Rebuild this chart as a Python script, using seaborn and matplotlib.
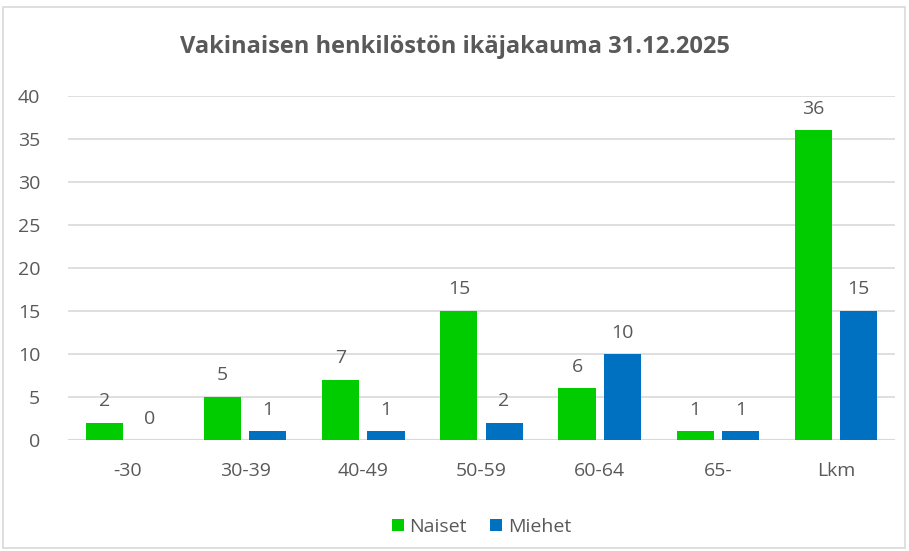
import pandas as pd
import matplotlib.pyplot as plt
import seaborn as sns
from matplotlib.patches import Rectangle

# Data
categories = ["-30", "30-39", "40-49", "50-59", "60-64", "65-", "Lkm"]
naiset = [2, 5, 7, 15, 6, 1, 36]
miehet = [0, 1, 1, 2, 10, 1, 15]

df = pd.DataFrame({
    "Ikä": categories * 2,
    "Määrä": naiset + miehet,
    "Sukupuoli": ["Naiset"] * len(categories) + ["Miehet"] * len(categories),
})

sns.set_style("white")
plt.rcParams["font.family"] = ["Open Sans", "DejaVu Sans"]

text_color = "#595959"
grid_color = "#d9d9d9"

fig = plt.figure(figsize=(9.09, 5.51), dpi=100)
ax = fig.add_axes([68 / 909, 1 - 440 / 551, 827 / 909, 344 / 551])

sns.barplot(
    data=df,
    x="Ikä",
    y="Määrä",
    hue="Sukupuoli",
    palette={"Naiset": "#00cc00", "Miehet": "#0070c0"},
    saturation=1,
    linewidth=0,
    width=0.766,
    gap=0.18,
    ax=ax,
)

ax.set_ylim(0, 40)
ax.set_yticks(range(0, 41, 5))
ax.set_xlim(-0.5, len(categories) - 0.5)
ax.yaxis.grid(True, color=grid_color, linewidth=1.2)
ax.set_axisbelow(True)
for side in ["top", "right", "left", "bottom"]:
    ax.spines[side].set_visible(False)
ax.axhline(0, color=grid_color, linewidth=1.5, zorder=0)

ax.set_xlabel("")
ax.set_ylabel("")
ax.tick_params(axis="both", length=0, labelsize=14, colors=text_color)
ax.tick_params(axis="x", pad=16)
ax.tick_params(axis="y", pad=20)

for container in ax.containers:
    ax.bar_label(container, padding=9, fontsize=14, color=text_color)

leg = ax.legend(
    loc="upper center",
    bbox_to_anchor=(0.5, -0.175),
    ncol=2,
    frameon=False,
    fontsize=14,
    handlelength=0.6,
    handleheight=0.6,
    handletextpad=0.3,
    columnspacing=1.2,
)
for t in leg.get_texts():
    t.set_color(text_color)

fig.suptitle(
    "Vakinaisen henkilöstön ikäjakauma 31.12.2025",
    x=0.5, y=1 - 47 / 551, va="center",
    fontsize=17, fontweight="bold", color=text_color,
)

# light frame around the chart
fig.patches.append(Rectangle(
    (3 / 909, 3 / 551), 902 / 909, 541 / 551,
    transform=fig.transFigure, fill=False,
    edgecolor="#d9d9d9", linewidth=1.2,
))

plt.savefig("out.png", dpi=100)
